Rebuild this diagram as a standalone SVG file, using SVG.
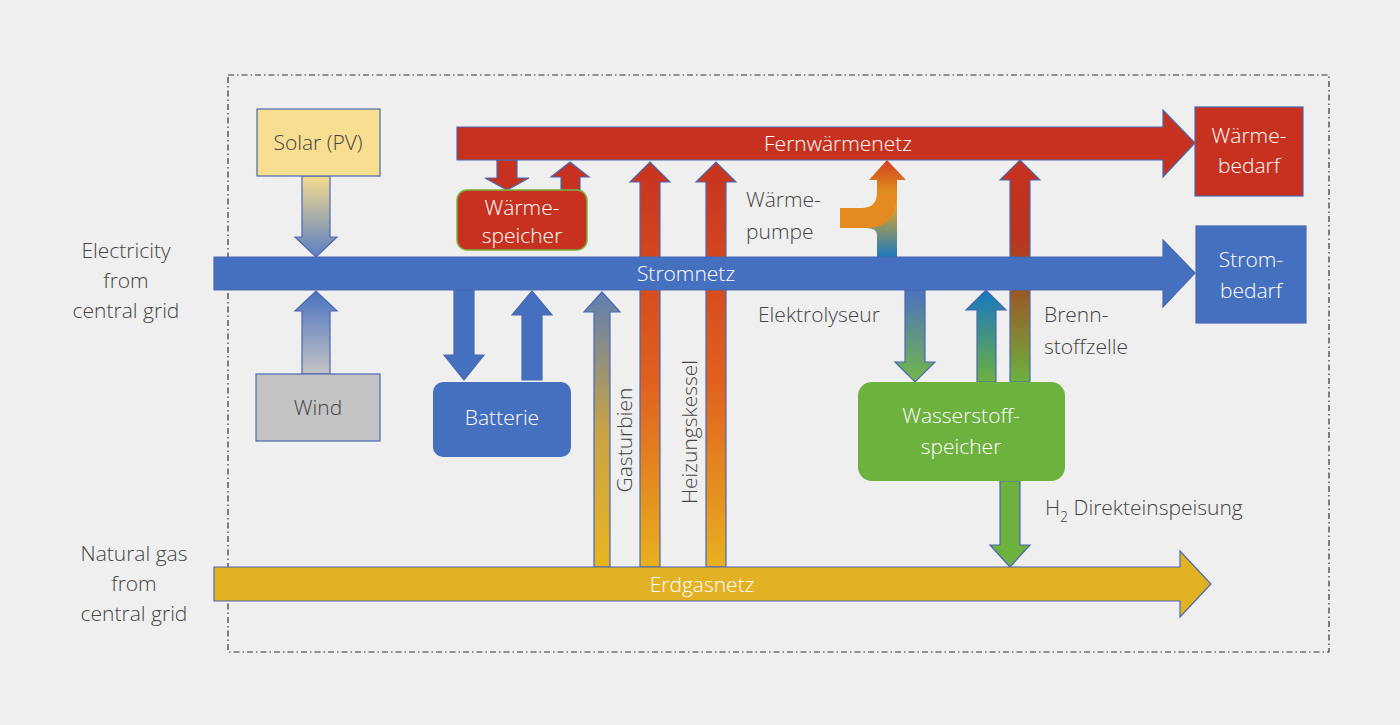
<svg xmlns="http://www.w3.org/2000/svg" width="1400" height="725" viewBox="0 0 1400 725">
<defs>
<style>
text{font-family:"Open Sans","Liberation Sans",sans-serif;font-size:21px;font-weight:300;fill:#444;}
.w{fill:#fff;}
.st{stroke:#4a68b0;stroke-width:1.2;}
.red{fill:#c6321f;}
.blue{fill:#4570bf;}
.yel{fill:#e2b124;}
.grn{fill:#6db13f;}
</style>
<linearGradient id="gGas" x1="0" y1="1" x2="0" y2="0"><stop offset="0" stop-color="#e8b51f"/><stop offset="0.5" stop-color="#c9a246"/><stop offset="1" stop-color="#5f7fb0"/></linearGradient>
<linearGradient id="gHeiz" x1="0" y1="1" x2="0" y2="0"><stop offset="0" stop-color="#e8b020"/><stop offset="0.45" stop-color="#e0621e"/><stop offset="1" stop-color="#c8321f"/></linearGradient>
<linearGradient id="gSolar" x1="0" y1="0" x2="0" y2="1"><stop offset="0" stop-color="#f6dc8e"/><stop offset="1" stop-color="#5a7fc4"/></linearGradient>
<linearGradient id="gWind" x1="0" y1="1" x2="0" y2="0"><stop offset="0" stop-color="#c4c4c4"/><stop offset="1" stop-color="#4a72c0"/></linearGradient>
<linearGradient id="gWP" x1="0" y1="1" x2="0" y2="0"><stop offset="0" stop-color="#1f79c0"/><stop offset="0.55" stop-color="#e3a920"/><stop offset="1" stop-color="#d2401f"/></linearGradient>
<linearGradient id="gEl" x1="0" y1="0" x2="0" y2="1"><stop offset="0" stop-color="#4c72c0"/><stop offset="1" stop-color="#72b84a"/></linearGradient>
<linearGradient id="gUp" x1="0" y1="1" x2="0" y2="0"><stop offset="0" stop-color="#6db13f"/><stop offset="1" stop-color="#1776c4"/></linearGradient>
<linearGradient id="gBZ" x1="0" y1="1" x2="0" y2="0"><stop offset="0" stop-color="#6db13f"/><stop offset="0.4" stop-color="#9a5a25"/><stop offset="0.65" stop-color="#b9341f"/><stop offset="1" stop-color="#c8321f"/></linearGradient>
</defs>
<rect width="1400" height="725" fill="#efefef"/>
<rect x="228" y="75" width="1101" height="577" fill="none" stroke="#333" stroke-width="1.2" stroke-dasharray="6,3,1.5,3"/>

<g id="connectors">
<path d="M1010,382 V180 H1000 L1020,160 L1040,180 H1030 V382 Z" fill="url(#gBZ)" class="st"/>
<path d="M594,567 V312 H584 L602,292 L620,312 H610 V567 Z" fill="url(#gGas)" class="st"/>
<path d="M640,567 V182 H630 L650,162 L670,182 H660 V567 Z" fill="url(#gHeiz)" class="st"/>
<path d="M706,567 V182 H696 L716,162 L736,182 H726 V567 Z" fill="url(#gHeiz)" class="st"/>
<path d="M302,176 V237 H295 L316,257 L337,237 H330 V176 Z" fill="url(#gSolar)" class="st"/>
<path d="M302,374 V311 H295 L316,291 L337,311 H330 V374 Z" fill="url(#gWind)" class="st"/>
<path d="M497,160 V178 H485 L507,190 L529,178 H517 V160 Z" class="red st"/>
<path d="M561,190 V177 H551 L570,162 L589,177 H580 V190 Z" class="red st"/>
<path d="M454,290 V355 H444 L464,380 L484,355 H474 V290 Z" class="blue st"/>
<path d="M522,380 V315 H512 L532,291 L552,315 H542 V380 Z" class="blue st"/>
<path d="M840,208 H862 Q877,208 877,193 V180 H869 L887,160 L906,180 H897 V257 H877 V235 Q877,228 866,228 H840 Z" fill="url(#gWP)"/>
<path d="M840,208 H862 Q877,208 877,193 L897,193 Q897,228 866,228 H840 Z" fill="#e58a1f"/>
<path d="M905,290 V362 H895 L915,382 L935,362 H925 V290 Z" fill="url(#gEl)" class="st"/>
<path d="M977,382 V310 H966 L986,290 L1006,310 H996 V382 Z" fill="url(#gUp)" class="st"/>
<path d="M1000,481 V545 H990 L1010,567 L1030,545 H1020 V481 Z" class="grn st"/>
</g>

<g id="fernwaermenetz">
<path d="M457,127 H1163 V110 L1195,143 L1163,177 V160 H457 Z" class="red st"/>
<text x="838" y="151" text-anchor="middle" class="w">Fernwärmenetz</text>
</g>
<g id="stromnetz">
<path d="M214,257 H1163 V240 L1195,273 L1163,307 V290 H214 Z" class="blue st"/>
<text x="686" y="281" text-anchor="middle" class="w">Stromnetz</text>
</g>
<g id="erdgasnetz">
<path d="M214,567 H1180 V551 L1211,584 L1180,617 V601 H214 Z" class="yel st"/>
<text x="702" y="592" text-anchor="middle" class="w">Erdgasnetz</text>
</g>

<g id="waermebedarf"><rect x="1195" y="107" width="108" height="89" class="red st"/>
<text x="1249" y="143" text-anchor="middle" class="w">Wärme-</text><text x="1249" y="173" text-anchor="middle" class="w">bedarf</text></g>
<g id="strombedarf"><rect x="1196" y="226" width="110" height="97" class="blue st"/>
<text x="1251" y="267" text-anchor="middle" class="w">Strom-</text><text x="1251" y="298" text-anchor="middle" class="w">bedarf</text></g>
<g id="solar"><rect x="257" y="109" width="123" height="67" fill="#f8de90" class="st"/>
<text x="318" y="150" text-anchor="middle">Solar (PV)</text></g>
<g id="wind"><rect x="256" y="374" width="124" height="67" fill="#c4c4c4" class="st"/>
<text x="318" y="415" text-anchor="middle">Wind</text></g>
<g id="waermespeicher"><rect x="457" y="190" width="130" height="60" rx="10" class="red" stroke="#7bb33f" stroke-width="1.5"/>
<text x="522" y="215" text-anchor="middle" class="w">Wärme-</text><text x="522" y="243" text-anchor="middle" class="w">speicher</text></g>
<g id="batterie"><rect x="433" y="382" width="138" height="75" rx="10" class="blue"/>
<text x="502" y="425" text-anchor="middle" class="w">Batterie</text></g>
<g id="wasserstoffspeicher"><rect x="858" y="382" width="207" height="99" rx="14" class="grn"/>
<text x="961" y="423" text-anchor="middle" class="w">Wasserstoff-</text><text x="961" y="454" text-anchor="middle" class="w">speicher</text></g>

<g id="labels">
<text x="126" y="258" text-anchor="middle">Electricity</text>
<text x="126" y="288" text-anchor="middle">from</text>
<text x="126" y="318" text-anchor="middle">central grid</text>
<text x="134" y="561" text-anchor="middle">Natural gas</text>
<text x="134" y="591" text-anchor="middle">from</text>
<text x="134" y="621" text-anchor="middle">central grid</text>
<text x="746" y="207">Wärme-</text>
<text x="746" y="239">pumpe</text>
<text x="758" y="322">Elektrolyseur</text>
<text x="1044" y="322">Brenn-</text>
<text x="1044" y="354">stoffzelle</text>
<text x="1045" y="515">H<tspan font-size="14" dy="7">2</tspan><tspan dy="-7"> Direkteinspeisung</tspan></text>
<text transform="translate(632,440) rotate(-90)" text-anchor="middle">Gasturbien</text>
<text transform="translate(697,432) rotate(-90)" text-anchor="middle">Heizungskessel</text>
</g>
</svg>
